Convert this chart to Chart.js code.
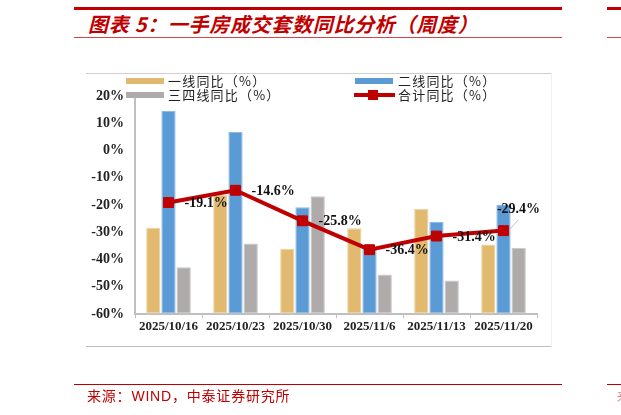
<!DOCTYPE html>
<html>
<head>
<meta charset="utf-8">
<script src="https://cdn.jsdelivr.net/npm/chart.js@4.4.1/dist/chart.umd.min.js"></script>
<style>
  html, body { margin: 0; padding: 0; background: #fff; }
  #page { position: relative; width: 621px; height: 415px; overflow: hidden; background: #fff; }
  #page canvas { position: absolute; left: 0; top: 0; }
  .ln { position: absolute; }
  .txt { position: absolute; white-space: nowrap; }
  .lgtext { position: absolute; white-space: nowrap; font: 13px "Noto Sans CJK SC", sans-serif; letter-spacing: 1.2px; color: #222; line-height: 14px; }
  .sw { position: absolute; width: 38px; height: 6px; }
</style>
</head>
<body>
<div id="page">
  <!-- title block -->
  <div class="ln" style="left:74px;top:7px;width:488px;height:3px;background:#C00000"></div>
  <div class="ln" style="left:607px;top:7px;width:14px;height:3px;background:#C00000"></div>
  <div class="txt" style="left:88px;top:14px;font:italic bold 20px 'Noto Sans CJK SC',sans-serif;letter-spacing:0.7px;line-height:20px;color:#C00000">图表 5：一手房成交套数同比分析（周度）</div>
  <div class="ln" style="left:74px;top:37px;width:488px;height:1px;background:#D64545"></div>
  <div class="ln" style="left:607px;top:37px;width:14px;height:1px;background:#D64545"></div>

  <!-- chart frame -->
  <div class="ln" style="left:86px;top:73px;width:465px;height:1px;background:#CFCFCF"></div>
  <div class="ln" style="left:86px;top:346px;width:465px;height:1px;background:#BFBFBF"></div>
  <div class="ln" style="left:551px;top:73px;width:1px;height:274px;background:#F0F0F0"></div>

  <canvas id="chart" width="621" height="415"></canvas>

  <!-- legend -->
  <div class="sw" style="left:126px;top:78px;background:#E2BA6F"></div>
  <div class="lgtext" style="left:168px;top:74px">一线同比（%）</div>
  <div class="sw" style="left:355px;top:78px;background:#5B9BD5"></div>
  <div class="lgtext" style="left:398px;top:74px">二线同比（%）</div>
  <div class="sw" style="left:126px;top:92px;background:#AFABAB"></div>
  <div class="lgtext" style="left:168px;top:88px">三四线同比（%）</div>
  <div class="ln" style="left:354px;top:93px;width:41px;height:4px;background:#C00000"></div>
  <div class="ln" style="left:368px;top:90px;width:10px;height:10px;background:#C00000"></div>
  <div class="lgtext" style="left:398px;top:88px">合计同比（%）</div>

  <!-- source -->
  <div class="ln" style="left:74px;top:384px;width:488px;height:1px;background:#C00000"></div>
  <div class="ln" style="left:607px;top:384px;width:14px;height:1px;background:#C00000"></div>
  <div class="txt" style="left:87px;top:387px;font:14px 'Noto Sans CJK SC',sans-serif;letter-spacing:0.8px;line-height:16px;color:#C00000">来源：<span style="font-family:'Liberation Sans',Arial,sans-serif">WIND</span>，中泰证券研究所</div>
  <div class="txt" style="left:617px;top:389px;font:12px 'Noto Sans CJK SC',sans-serif;line-height:14px;color:#E08080">来</div>
</div>

<script>
"use strict";

// Data
var categories = ['2025/10/16', '2025/10/23', '2025/10/30', '2025/11/6', '2025/11/13', '2025/11/20'];
var tier1 = [-28.4, -16.2, -36.1, -28.5, -21.5, -34.5];   // 一线同比
var tier2 = [14.5, 6.8, -20.8, -35.4, -26.2, -20.0];      // 二线同比
var tier34 = [-42.8, -34.1, -16.8, -45.5, -47.7, -35.7];  // 三四线同比
var total = [-19.1, -14.6, -25.8, -36.4, -31.4, -29.4];   // 合计同比
var yTicks = [-60, -50, -40, -30, -20, -10, 0, 10, 20];

var serifBold = { family: '"Liberation Serif", "Times New Roman", serif', size: 13, weight: 'bold' };
var serifBoldY = { family: '"Liberation Serif", "Times New Roman", serif', size: 14, weight: 'bold' };

// Labels for the total line, drawn next to each point
var totalLabels = {
    id: 'totalLabels',
    afterDatasetsDraw: function (chart) {
        var meta = chart.getDatasetMeta(3);
        var ctx = chart.ctx;
        ctx.save();
        ctx.font = 'bold 14px "Liberation Serif", "Times New Roman", serif';
        ctx.fillStyle = '#111';
        ctx.textBaseline = 'middle';
        meta.data.forEach(function (pt, i) {
            var text = total[i].toFixed(1) + '%';
            if (i === total.length - 1) {
                // last one sits above with a small leader line
                ctx.strokeStyle = '#BFBFBF';
                ctx.lineWidth = 1;
                ctx.beginPath();
                ctx.moveTo(pt.x + 6, pt.y - 1);
                ctx.lineTo(pt.x + 15, pt.y - 11);
                ctx.stroke();
                ctx.textAlign = 'center';
                ctx.fillText(text, pt.x + 15, pt.y - 21);
            } else {
                ctx.textAlign = 'left';
                ctx.fillText(text, pt.x + 16, pt.y + 1);
            }
        });
        ctx.restore();
    }
};

// bars rise from the bottom of the axis
var barOpts = {
    base: yTicks[0],
    categoryPercentage: 0.68,
    barPercentage: 0.94,
    borderWidth: 1,
    borderSkipped: false,
    order: 1
};

var config = {
    type: 'bar',
    data: {
        labels: categories,
        datasets: [
            Object.assign({ label: '一线同比（%）', data: tier1, backgroundColor: '#E2BA6F', borderColor: '#EDD3A2' }, barOpts),
            Object.assign({ label: '二线同比（%）', data: tier2, backgroundColor: '#5B9BD5', borderColor: '#8DBAE4' }, barOpts),
            Object.assign({ label: '三四线同比（%）', data: tier34, backgroundColor: '#AFABAB', borderColor: '#C9C6C6' }, barOpts),
            {
                type: 'line',
                label: '合计同比（%）',
                data: total,
                borderColor: '#C00000',
                backgroundColor: '#C00000',
                borderWidth: 4,
                tension: 0,
                pointStyle: 'rect',
                pointRadius: 7,
                pointBorderWidth: 1,
                pointBorderColor: '#C00000',
                pointBackgroundColor: '#C00000',
                order: 0
            }
        ]
    },
    options: {
        responsive: false,
        animation: false,
        layout: { padding: { left: 85, right: 84, top: 96, bottom: 71 } },
        plugins: {
            legend: { display: false },
            tooltip: { enabled: false }
        },
        scales: {
            x: {
                grid: {
                    display: true,
                    drawOnChartArea: false,
                    drawTicks: true,
                    tickLength: 4,
                    color: '#BFBFBF',
                    lineWidth: 1
                },
                border: { color: '#BFBFBF', width: 2 },
                ticks: { font: serifBold, color: '#222', padding: 1, maxRotation: 0, autoSkip: false },
                afterFit: function (s) { s.height = 30; }
            },
            y: {
                min: yTicks[0],
                max: yTicks[yTicks.length - 1],
                afterBuildTicks: function (s) {
                    s.ticks = yTicks.map(function (v) { return { value: v }; });
                },
                grid: { drawOnChartArea: false, drawTicks: false },
                border: { color: '#BFBFBF', width: 2 },
                ticks: {
                    font: serifBoldY,
                    color: '#222',
                    padding: 11,
                    callback: function (v) { return v + '%'; }
                },
                afterFit: function (s) { s.width = 50; }
            }
        }
    },
    plugins: [totalLabels]
};

new Chart(document.getElementById('chart').getContext('2d'), config);
</script>
</body>
</html>
